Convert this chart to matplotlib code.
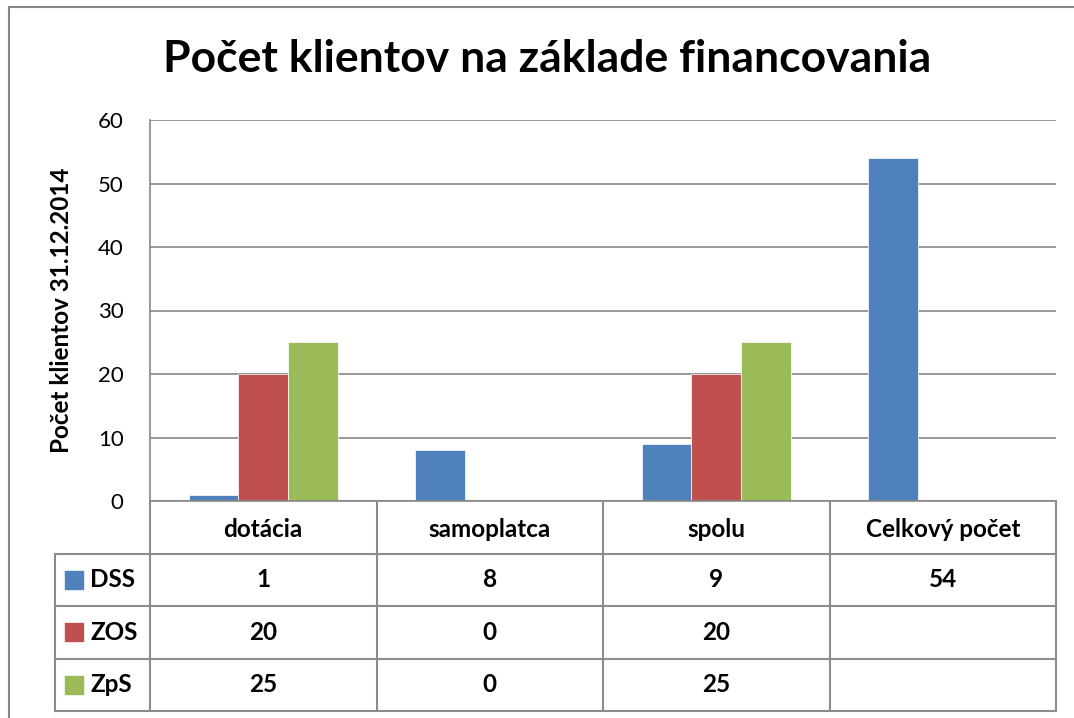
import matplotlib
matplotlib.use("Agg")
import matplotlib.pyplot as plt
from matplotlib.lines import Line2D
from matplotlib.patches import Rectangle
import numpy as np

categories = ["dotácia", "samoplatca", "spolu", "Celkový počet"]
series_names = ["DSS", "ZOS", "ZpS"]
dss = [1, 8, 9, 54]
zos = [20, 0, 20, None]
zps = [25, 0, 25, None]
colors = ["#4F81BD", "#C0504D", "#9BBB59"]
yticks = [0, 10, 20, 30, 40, 50, 60]
title = "Počet klientov na základe financovania"
ylabel = "Počet klientov 31.12.2014"

FONT = ["Lato", "DejaVu Sans"]
plt.rcParams['font.family'] = FONT

W, H = 1074, 718
fig = plt.figure(figsize=(W / 100, H / 100), dpi=100)
fig.patch.set_facecolor("white")

def fx(px):
    return px / W

def fy(py):
    return 1 - py / H

grid_c = "#868686"

# outer chart frame
fig.add_artist(Line2D([fx(9), 1.0], [fy(7), fy(7)], color=grid_c, lw=1.5))
fig.add_artist(Line2D([fx(9), fx(9)], [fy(7), 0.0], color=grid_c, lw=1.5))

# plot area
L, R, T, B = 150, 1056, 120, 501
ax = fig.add_axes([fx(L), fy(B), fx(R) - fx(L), fy(T) - fy(B)])
ax.set_xlim(0, len(categories))
ax.set_ylim(0, 60)
ax.set_yticks(yticks)
ax.set_yticklabels([str(t) for t in yticks], fontsize=16)
ax.set_xticks([])
for s in ["top", "right", "bottom"]:
    ax.spines[s].set_visible(False)
ax.spines["left"].set_color(grid_c)
ax.spines["left"].set_linewidth(1.2)
ax.tick_params(axis="y", length=0, pad=19)
ax.yaxis.grid(True, color=grid_c, lw=1.2)
ax.set_axisbelow(True)

bw = 0.22
x = np.arange(len(categories)) + 0.5
for k, (vals, c) in enumerate(zip([dss, zos, zps], colors)):
    xs = [xi + (k - 1) * bw for xi, v in zip(x, vals) if v is not None]
    vs = [v for v in vals if v is not None]
    ax.bar(xs, vs, width=bw, color=c, edgecolor="white", linewidth=0.5, zorder=3)

fig.text(fx(62), fy(310), ylabel, rotation=90, fontsize=17.5, fontweight="bold",
         ha="center", va="center")
fig.text(fx(547), fy(59), title, fontsize=32, fontweight="bold", ha="center", va="center")

# data table
TL, TB = 55, 711
leg_w = (L - TL) / ((R - L) / len(categories))
tab = fig.add_axes([fx(TL), fy(TB), fx(R) - fx(TL), fy(B) - fy(TB)])
tab.set_xlim(-leg_w, len(categories))
tab.set_ylim(0, 4)
tab.axis("off")
lc = "#8C8C8C"
lw = 1.5
for yy in [3, 2, 1, 0]:
    tab.plot([-leg_w, len(categories)], [yy, yy], color=lc, lw=lw, clip_on=False)
tab.plot([0, len(categories)], [4, 4], color=grid_c, lw=1.2, clip_on=False)
tab.plot([-leg_w, -leg_w], [0, 3], color=lc, lw=lw, clip_on=False)
for i in range(len(categories) + 1):
    tab.plot([i, i], [0, 4], color=lc, lw=lw, clip_on=False)

fs = 17.5
for i, cat in enumerate(categories):
    tab.text(i + 0.5, 3.45, cat, ha="center", va="center", fontsize=fs, fontweight="bold")
for r, (name, vals, c) in enumerate(zip(series_names, [dss, zos, zps], colors)):
    yc = 2.5 - r
    tab.add_patch(Rectangle((-leg_w + 0.045, yc - 0.17), 0.078, 0.34, color=c, clip_on=False))
    tab.text(-leg_w + 0.155, yc, name, ha="left", va="center", fontsize=fs, fontweight="bold")
    for i, v in enumerate(vals):
        if v is not None:
            tab.text(i + 0.5, yc, str(v), ha="center", va="center", fontsize=fs, fontweight="bold")

fig.savefig("out.png", dpi=100, facecolor="white")
